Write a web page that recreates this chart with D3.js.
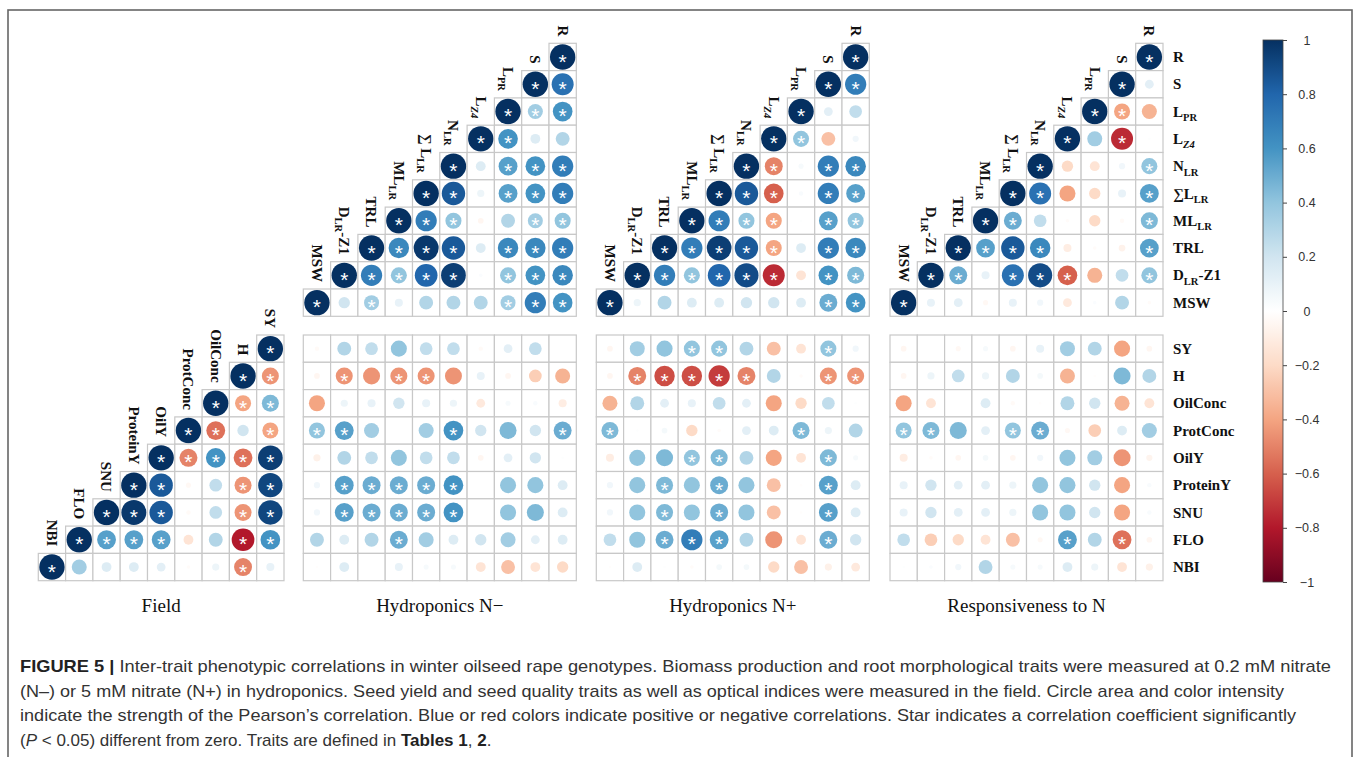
<!DOCTYPE html>
<html>
<head>
<meta charset="utf-8">
<script src="https://cdn.jsdelivr.net/npm/d3@7"></script>
<style>
  body { margin: 0; background: #fff; }
  .lab { font-family: "Liberation Serif", "Times New Roman", serif; font-weight: bold; fill: #111; }
  .title { font-family: "Liberation Serif", "Times New Roman", serif; fill: #111; }
  .caption { font-family: "Liberation Sans", Arial, sans-serif; fill: #333; }
</style>
</head>
<body>
<svg id="fig" width="1358" height="757"></svg>
<script>
// Traits
const rootTraits = ["MSW", "DLR-Z1", "TRL", "MLLR", "SumLLR", "NLR", "LZ4", "LPR", "S", "R"];
const rootDiagLabels = ["MSW", "D_{LR}-Z1", "TRL", "ML_{LR}", "∑ L_{LR}", "N_{LR}", "L_{~Z4}", "L_{PR}", "S", "R"];
const rootRowLabels = ["MSW", "D_{LR}-Z1", "TRL", "ML_{LR}", "∑L_{LR}", "N_{LR}", "L_{~Z4}", "L_{PR}", "S", "R"];
const fieldTraits = ["NBI", "FLO", "SNU", "ProteinY", "OilY", "ProtConc", "OilConc", "H", "SY"];
const fieldRows = fieldTraits.slice().reverse(); // SY ... NBI, top to bottom

const panelTitles = ["Field", "Hydroponics N\u2212", "Hydroponics N+", "Responsiveness to N"];

// Field: rows SY..NBI, values from the diagonal rightwards
const fieldR = [
  [1],
  [1, -0.45],
  [1, -0.4, 0.45],
  [1, -0.55, 0.2, -0.4],
  [1, -0.5, 0.6, -0.55, 0.95],
  [1, 0.85, -0.04, 0.25, -0.45, 0.92],
  [1, 0.97, 0.85, -0.03, 0.25, -0.45, 0.92],
  [1, 0.55, 0.55, 0.55, -0.15, 0.3, -0.8, 0.6],
  [1, 0.35, 0.15, 0.15, 0.12, -0.02, 0.08, -0.5, 0.1]
];
const fieldSig = ["*", "**", "***", "**.*", "*****", "**..**", "***..**", "****..**", "*......*."];

// Root traits: rows R..MSW (top to bottom), values from the diagonal rightwards
const nMinusUpper = [
  [1],
  [1, 0.75],
  [1, 0.35, 0.6],
  [1, 0.6, 0.15, 0.3],
  [1, 0.15, 0.55, 0.6, 0.7],
  [1, 0.85, 0.08, 0.55, 0.6, 0.7],
  [1, 0.7, 0.4, -0.05, 0.3, 0.35, 0.4],
  [1, 0.65, 0.97, 0.85, 0.15, 0.65, 0.65, 0.7],
  [1, 0.7, 0.4, 0.8, 0.95, 0.02, 0.4, 0.6, 0.65],
  [1, 0.2, 0.35, 0.1, 0.3, 0.3, 0.3, 0.35, 0.7, 0.6]
];
const nMinusUpperSig = ["*", "**", "***", "**..", "*.***", "**.***", "***..**", "****.***", "*****.***", "*.*....***"];

const nPlusUpper = [
  [1],
  [1, 0.7],
  [1, 0.12, 0.25],
  [1, 0.4, -0.3, 0.06],
  [1, -0.5, 0.04, 0.7, 0.65],
  [1, 0.85, -0.6, 0.03, 0.7, 0.55],
  [1, 0.7, 0.4, -0.4, 0.01, 0.55, 0.4],
  [1, 0.7, 0.95, 0.85, -0.4, 0.15, 0.7, 0.65],
  [1, 0.7, 0.4, 0.8, 0.9, -0.75, -0.15, 0.6, 0.45],
  [1, 0.08, 0.3, 0.15, 0.15, 0.2, 0.2, 0.15, 0.5, 0.6]
];
const nPlusUpperSig = ["*", "**", "*..", "**..", "**.**", "***.**", "****.**", "*****.**", "******.**", "*.......**"];

const respUpper = [
  [1],
  [1, 0.12],
  [1, -0.4, -0.35],
  [1, 0.35, -0.75, 0.01],
  [1, -0.2, -0.15, 0.06, 0.4],
  [1, 0.75, -0.4, -0.2, 0.1, 0.55],
  [1, 0.5, 0.25, -0.02, -0.2, -0.03, 0.45],
  [1, 0.55, 0.85, 0.65, -0.1, -0.02, -0.07, 0.55],
  [1, 0.5, 0.1, 0.75, 0.9, -0.6, -0.35, 0.25, 0.4],
  [1, 0.1, 0.12, -0.04, 0.1, 0.06, -0.12, 0.02, 0.3, -0.02]
];
const respUpperSig = ["*", "*.", "**.", "*.*.", "*...*", "**...*", "**....*", "****...*", "**.***..*", "*........."];

// Field traits (rows SY..NBI) x root traits (MSW..R)
const nMinusLower = [
  [-0.03, 0.3, 0.25, 0.4, 0.25, 0.25, -0.03, 0.12, 0.25, 0.0],
  [-0.05, -0.45, -0.45, -0.45, -0.45, -0.45, 0.1, -0.05, -0.25, -0.35],
  [-0.4, 0.08, 0.1, 0.2, 0.1, 0.08, -0.12, 0.04, 0.03, -0.1],
  [0.4, 0.55, 0.35, 0.0, 0.35, 0.6, 0.2, 0.45, 0.2, 0.5],
  [-0.08, 0.3, 0.25, 0.4, 0.25, 0.25, -0.05, 0.12, 0.2, 0.01],
  [0.06, 0.55, 0.5, 0.5, 0.5, 0.6, 0.0, 0.4, 0.4, 0.15],
  [0.06, 0.55, 0.5, 0.5, 0.5, 0.6, 0.0, 0.4, 0.45, 0.15],
  [0.3, 0.15, 0.3, 0.5, 0.35, 0.15, 0.2, 0.35, 0.12, 0.15],
  [-0.01, 0.15, 0.0, 0.1, 0.04, 0.04, -0.15, -0.3, -0.15, -0.2]
];
const nMinusLowerSig = ["..........", ".*.**.....", "..........", "**...*...*", "..........",
  ".*****....", ".*****....", "...*......", ".........."];

const nPlusLower = [
  [-0.05, 0.35, 0.4, 0.4, 0.4, 0.3, -0.3, -0.15, 0.4, 0.06],
  [-0.05, -0.5, -0.65, -0.65, -0.7, -0.5, 0.3, -0.02, -0.45, -0.45],
  [-0.35, 0.3, 0.12, 0.1, 0.25, 0.12, -0.4, -0.2, 0.25, 0.01],
  [0.45, 0.01, 0.05, -0.2, -0.02, 0.12, 0.15, 0.45, 0.08, 0.3],
  [-0.1, 0.4, 0.45, 0.4, 0.45, 0.3, -0.4, -0.15, 0.45, 0.04],
  [0.06, 0.4, 0.45, 0.4, 0.5, 0.4, -0.3, -0.01, 0.55, 0.15],
  [0.06, 0.4, 0.45, 0.4, 0.5, 0.4, -0.3, -0.01, 0.55, 0.15],
  [0.25, 0.4, 0.5, 0.7, 0.55, 0.3, -0.45, -0.15, 0.5, 0.2],
  [-0.01, 0.15, 0.01, -0.02, 0.05, 0.05, -0.2, -0.3, -0.08, -0.12]
];
const nPlusLowerSig = ["...**...*.", ".*****..**", "..........", "*......*..", "...**...*.",
  "..*.*...*.", "..*.*...*.", "..***...*.", ".........."];

const respLower = [
  [-0.05, 0.0, -0.04, 0.04, -0.05, 0.1, 0.35, 0.3, -0.4, -0.05],
  [-0.05, 0.08, 0.25, 0.08, 0.3, 0.05, -0.35, -0.01, 0.45, 0.3],
  [-0.4, -0.15, 0.0, 0.15, -0.03, -0.01, 0.3, 0.2, -0.35, -0.15],
  [0.4, 0.45, 0.45, 0.12, 0.4, 0.5, -0.04, -0.25, 0.15, 0.35],
  [-0.1, -0.02, -0.05, 0.05, -0.05, 0.06, 0.4, 0.35, -0.45, -0.06],
  [0.1, 0.2, 0.12, 0.12, 0.08, 0.4, 0.4, 0.2, -0.4, 0.03],
  [0.1, 0.2, 0.12, 0.12, 0.08, 0.4, 0.4, 0.2, -0.4, 0.03],
  [0.25, -0.25, -0.2, -0.15, -0.3, -0.04, 0.55, 0.3, -0.55, -0.05],
  [0.01, 0.02, 0.06, 0.3, 0.04, 0.04, 0.15, 0.08, -0.15, -0.08]
];
const respLowerSig = ["..........", "..........", "..........", "**..**....", "..........",
  "..........", "..........", "......*.*.", ".........."];

const colorbarTicks = [-1, -0.8, -0.6, -0.4, -0.2, 0, 0.2, 0.4, 0.6, 0.8, 1];

const captionLines = [
  [["FIGURE 5 | ", "b"], ["Inter-trait phenotypic correlations in winter oilseed rape genotypes. Biomass production and root morphological traits were measured at 0.2 mM nitrate", ""]],
  [["(N\u2013) or 5 mM nitrate (N+) in hydroponics. Seed yield and seed quality traits as well as optical indices were measured in the field. Circle area and color intensity", ""]],
  [["indicate the strength of the Pearson\u2019s correlation. Blue or red colors indicate positive or negative correlations. Star indicates a correlation coefficient significantly", ""]],
  [["(", ""], ["P", "i"], [" < 0.05) different from zero. Traits are defined in ", ""], ["Tables 1", "b"], [", ", ""], ["2", "b"], [".", ""]]
];
const captionEnds = [1331, 1284, 1296, null];

// Layout
const cell = 27.3;
const upperTop = 43.3;
const lowerTop = 335;
const fieldLeft = 38.3;
const panelLeft = [303.3, 596.3, 890.0];
const labelFs = 15;

const svg = d3.select("#fig");

// corrplot RdBu palette
const color = d3.scaleLinear()
  .domain(colorbarTicks)
  .range(["#67001F", "#B2182B", "#D6604D", "#F4A582", "#FDDBC7", "#FFFFFF",
          "#D1E5F0", "#92C5DE", "#4393C3", "#2166AC", "#053061"]);
const radius = d3.scaleSqrt().domain([0, 1]).range([0, cell * 0.465]);

const yUpper = d3.scaleBand().domain(rootTraits.slice().reverse()).range([upperTop, upperTop + 10 * cell]);
const yLower = d3.scaleBand().domain(fieldRows).range([lowerTop, lowerTop + 9 * cell]);
const xField = d3.scaleBand().domain(fieldTraits).range([fieldLeft, fieldLeft + 9 * cell]);

// outer frame
svg.append("rect")
  .attr("x", 8).attr("y", 10).attr("width", 1344).attr("height", 780)
  .attr("fill", "none").attr("stroke", "#666").attr("stroke-width", 1.6);

// write a label like "D_{LR}-Z1" with subscripts into a text element
function writeLabel(text, s, fs) {
  const parts = s.split(/(_\{[^}]*\})/).filter((p) => p !== "");
  let shifted = false;
  parts.forEach((p) => {
    if (p.startsWith("_{")) {
      let inner = p.slice(2, -1);
      const italic = inner.startsWith("~");
      if (italic) inner = inner.slice(1);
      text.append("tspan")
        .attr("dy", shifted ? 0 : fs * 0.3)
        .attr("font-size", fs * 0.7)
        .attr("font-style", italic ? "italic" : null)
        .text(inner);
      shifted = true;
    } else {
      text.append("tspan")
        .attr("dy", shifted ? -fs * 0.3 : 0)
        .text(p);
      shifted = false;
    }
  });
}

function drawCells(g, cells, x, y) {
  const c = g.selectAll(".cell").data(cells).enter().append("g").attr("class", "cell");
  c.append("rect")
    .attr("x", (d) => x(d.col))
    .attr("y", (d) => y(d.row))
    .attr("width", x.bandwidth())
    .attr("height", y.bandwidth())
    .attr("fill", "#fff")
    .attr("stroke", "#c8c8c8")
    .attr("stroke-width", 1.2);
  c.append("circle")
    .attr("cx", (d) => x(d.col) + x.bandwidth() / 2)
    .attr("cy", (d) => y(d.row) + y.bandwidth() / 2)
    .attr("r", (d) => radius(Math.abs(d.r)))
    .attr("fill", (d) => color(d.r));
  c.filter((d) => d.sig)
    .append("text")
    .attr("x", (d) => x(d.col) + x.bandwidth() / 2)
    .attr("y", (d) => y(d.row) + y.bandwidth() / 2 + 11.6)
    .attr("text-anchor", "middle")
    .attr("font-family", "Liberation Sans, Arial, sans-serif")
    .attr("font-size", 21)
    .attr("fill", "#fff")
    .text("*");
}

// cells of a staircase triangle: rows top to bottom are traits reversed
function triangleCells(traits, values, sig) {
  const n = traits.length;
  const cells = [];
  values.forEach((row, i) => {
    row.forEach((r, j) => {
      cells.push({ row: traits[n - 1 - i], col: traits[n - 1 - i + j], r: r, sig: sig[i][j] === "*" });
    });
  });
  return cells;
}

function blockCells(rows, cols, values, sig) {
  const cells = [];
  values.forEach((row, i) => {
    row.forEach((r, j) => {
      cells.push({ row: rows[i], col: cols[j], r: r, sig: sig[i][j] === "*" });
    });
  });
  return cells;
}

function diagLabels(g, traits, labels, x, y) {
  traits.forEach((t, i) => {
    const text = g.append("text")
      .attr("class", "lab")
      .attr("font-size", labelFs)
      .attr("text-anchor", "end")
      .attr("transform", `translate(${x(t) + x.bandwidth() / 2 - labelFs * 0.34}, ${y(t) - 7}) rotate(90)`);
    writeLabel(text, labels[i], labelFs);
  });
}

// Field panel
const gField = svg.append("g");
drawCells(gField, triangleCells(fieldTraits, fieldR, fieldSig), xField, yLower);
diagLabels(gField, fieldTraits, fieldTraits, xField, yLower);

// Root trait panels
const uppers = [nMinusUpper, nPlusUpper, respUpper];
const upperSigs = [nMinusUpperSig, nPlusUpperSig, respUpperSig];
const lowers = [nMinusLower, nPlusLower, respLower];
const lowerSigs = [nMinusLowerSig, nPlusLowerSig, respLowerSig];

const panelCenters = [fieldLeft + 4.5 * cell];
panelLeft.forEach((x0, k) => {
  const x = d3.scaleBand().domain(rootTraits).range([x0, x0 + 10 * cell]);
  const g = svg.append("g");
  drawCells(g, triangleCells(rootTraits, uppers[k], upperSigs[k]), x, yUpper);
  drawCells(g.append("g"), blockCells(fieldRows, rootTraits, lowers[k], lowerSigs[k]), x, yLower);
  diagLabels(g, rootTraits, rootDiagLabels, x, yUpper);
  panelCenters.push(x0 + 5 * cell);
});

// Panel titles
svg.selectAll(".title").data(panelTitles).enter().append("text")
  .attr("class", "title")
  .attr("x", (d, i) => panelCenters[i])
  .attr("y", 612)
  .attr("text-anchor", "middle")
  .attr("font-size", 19)
  .text((d) => d);

// Row labels on the right
const rowLabelX = 1173;
rootTraits.forEach((t, i) => {
  const text = svg.append("text").attr("class", "lab")
    .attr("font-size", labelFs)
    .attr("x", rowLabelX)
    .attr("y", yUpper(t) + cell / 2 + labelFs * 0.34);
  writeLabel(text, rootRowLabels[i], labelFs);
});
fieldRows.forEach((t) => {
  svg.append("text").attr("class", "lab")
    .attr("font-size", labelFs)
    .attr("x", rowLabelX)
    .attr("y", yLower(t) + cell / 2 + labelFs * 0.34)
    .text(t);
});

// Colour bar
const cbX = 1263, cbW = 20, cbTop = 40, cbBottom = 582;
const grad = svg.append("defs").append("linearGradient")
  .attr("id", "cbgrad").attr("x1", 0).attr("y1", 1).attr("x2", 0).attr("y2", 0);
d3.range(0, 1.0001, 0.02).forEach((t) => {
  grad.append("stop").attr("offset", t).attr("stop-color", color(-1 + 2 * t));
});
svg.append("rect")
  .attr("x", cbX).attr("y", cbTop).attr("width", cbW).attr("height", cbBottom - cbTop)
  .attr("fill", "url(#cbgrad)").attr("stroke", "#444").attr("stroke-width", 0.8);

const cbScale = d3.scaleLinear().domain([-1, 1]).range([cbBottom, cbTop]);
const cbAxis = svg.append("g")
  .attr("transform", `translate(${cbX + cbW}, 0)`)
  .call(d3.axisRight(cbScale).tickValues(colorbarTicks).tickSize(4).tickFormat(d3.format("")));
cbAxis.select(".domain").remove();
cbAxis.selectAll("line").attr("stroke", "#444");
cbAxis.selectAll("text")
  .attr("x", 24)
  .attr("text-anchor", "middle")
  .attr("font-family", "Liberation Sans, Arial, sans-serif")
  .attr("font-size", 12.5)
  .attr("fill", "#333");

// Caption
captionLines.forEach((line, i) => {
  const text = svg.append("text")
    .attr("class", "caption")
    .attr("x", 20)
    .attr("y", 672 + i * 24.6)
    .attr("font-size", 17);
  if (captionEnds[i]) {
    text.attr("textLength", captionEnds[i] - 20).attr("lengthAdjust", "spacingAndGlyphs");
  }
  line.forEach(([s, st]) => {
    text.append("tspan")
      .attr("font-weight", st === "b" ? "bold" : null)
      .attr("font-style", st === "i" ? "italic" : null)
      .attr("fill", st === "b" ? "#222" : null)
      .text(s);
  });
});
</script>
</body>
</html>
